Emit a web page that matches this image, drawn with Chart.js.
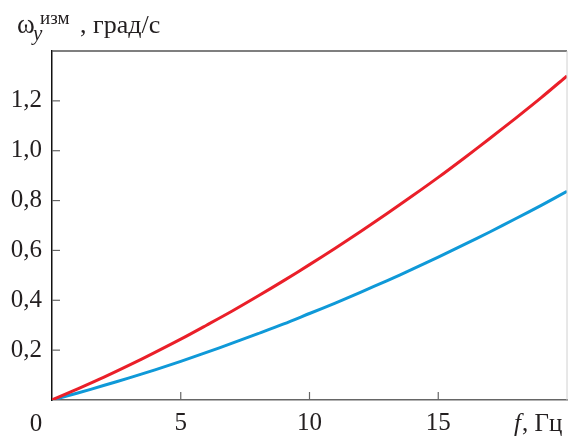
<!DOCTYPE html>
<html>
<head>
<meta charset="utf-8">
<script src="https://cdn.jsdelivr.net/npm/chart.js@4.4.0/dist/chart.umd.min.js"></script>
<style>
    body { margin: 0; background: #fff; }
</style>
</head>
<body>
<canvas id="myChart" width="569" height="437"></canvas>
<script>
// Frequency, Hz
const freq = [0, 1, 2, 3, 4, 5, 6, 7, 8, 9, 10, 11, 12, 13, 14, 15, 16, 17, 18, 19, 20];
// Measured angular rate, deg/s (upper red curve)
const redValues = [0, 0.045, 0.091, 0.140, 0.191, 0.244, 0.300, 0.357, 0.417, 0.479, 0.543,
    0.609, 0.677, 0.747, 0.819, 0.893, 0.970, 1.049, 1.130, 1.213, 1.300];
// Measured angular rate, deg/s (lower blue curve)
const blueValues = [0, 0.028, 0.058, 0.089, 0.121, 0.155, 0.191, 0.228, 0.266, 0.305, 0.347,
    0.389, 0.433, 0.478, 0.525, 0.573, 0.623, 0.674, 0.727, 0.781, 0.837];
const xTicks = [5, 10, 15];
const yTicks = [0.2, 0.4, 0.6, 0.8, 1.0, 1.2];

const serif = 'Liberation Serif';
const textColor = '#231f20';

// Draws inward ticks, frame lines and the text labels
const decorPlugin = {
    id: 'decor',
    afterDraw(chart) {
        const ctx = chart.ctx;
        const area = chart.chartArea;
        const xs = chart.scales.x;
        const ys = chart.scales.y;
        ctx.save();

        // frame top and right
        ctx.lineWidth = 1.5;
        ctx.strokeStyle = '#555';
        ctx.beginPath();
        ctx.moveTo(area.left, area.top);
        ctx.lineTo(area.right, area.top);
        ctx.stroke();
        ctx.strokeStyle = '#d0d0d0';
        ctx.lineWidth = 1;
        ctx.beginPath();
        ctx.moveTo(area.right, area.top);
        ctx.lineTo(area.right, area.bottom);
        ctx.stroke();

        // inward ticks
        ctx.strokeStyle = '#666';
        ctx.lineWidth = 1.2;
        yTicks.forEach(v => {
            const y = ys.getPixelForValue(v);
            ctx.beginPath();
            ctx.moveTo(area.left, y);
            ctx.lineTo(area.left + 8, y);
            ctx.stroke();
        });
        xTicks.forEach(v => {
            const x = xs.getPixelForValue(v);
            ctx.beginPath();
            ctx.moveTo(x, area.bottom);
            ctx.lineTo(x, area.bottom - 8);
            ctx.stroke();
        });

        ctx.fillStyle = textColor;
        ctx.textBaseline = 'alphabetic';

        // origin label
        ctx.font = '25px "' + serif + '"';
        ctx.textAlign = 'center';
        ctx.fillText('0', 36, 431);

        // x axis title
        ctx.textAlign = 'left';
        ctx.font = 'italic 25px "' + serif + '"';
        ctx.fillText('f', 514, 431);
        let w = ctx.measureText('f').width;
        ctx.font = '25px "' + serif + '"';
        ctx.fillText(', Гц', 514 + w + 1, 431);

        // y axis title
        ctx.font = '27px "' + serif + '"';
        ctx.fillText('ω', 17, 33);
        ctx.font = 'italic 21px "' + serif + '"';
        ctx.fillText('y', 33, 40);
        ctx.font = '19px "' + serif + '"';
        ctx.fillText('изм', 40, 24);
        ctx.font = '26px "' + serif + '"';
        ctx.fillText(', град/с', 80, 33);

        ctx.restore();
    }
};

const datasets = [{
    label: 'red',
    values: redValues,
    color: '#ea1f29'
}, {
    label: 'blue',
    values: blueValues,
    color: '#0f99d8'
}].map(s => ({
    label: s.label,
    data: s.values.map((v, i) => ({ x: freq[i], y: v })),
    borderColor: s.color,
    borderWidth: 3,
    pointRadius: 0,
    tension: 0.3,
    fill: false
}));

const config = {
    type: 'line',
    data: { datasets: datasets },
    options: {
        responsive: false,
        animation: false,
        devicePixelRatio: 1,
        layout: {
            padding: { left: 0, right: 2, top: 51, bottom: 0 }
        },
        plugins: {
            legend: { display: false },
            tooltip: { enabled: false }
        },
        scales: {
            x: {
                type: 'linear',
                min: 0,
                max: 20,
                grid: { display: false, drawTicks: false },
                border: { display: true, color: '#666', width: 1.5 },
                ticks: {
                    stepSize: 5,
                    padding: 8,
                    color: textColor,
                    font: { family: serif, size: 25 },
                    callback: v => xTicks.includes(v) ? String(v) : ''
                },
                afterFit: scale => {
                    scale.height = 37;
                    scale.paddingLeft = 0;
                    scale.paddingRight = 0;
                }
            },
            y: {
                type: 'linear',
                min: 0,
                max: 1.4,
                grid: { display: false, drawTicks: false },
                border: { display: true, color: '#111', width: 1.5 },
                ticks: {
                    stepSize: 0.2,
                    padding: 10,
                    color: textColor,
                    font: { family: serif, size: 25 },
                    callback: v => {
                        const r = Math.round(v * 10) / 10;
                        return yTicks.some(t => Math.abs(t - r) < 1e-6) ? r.toFixed(1).replace('.', ',') : '';
                    }
                },
                afterFit: scale => {
                    scale.width = 52;
                    scale.paddingTop = 0;
                    scale.paddingBottom = 0;
                }
            }
        }
    },
    plugins: [decorPlugin]
};

const ctx = document.getElementById('myChart').getContext('2d');
new Chart(ctx, config);
</script>
</body>
</html>
